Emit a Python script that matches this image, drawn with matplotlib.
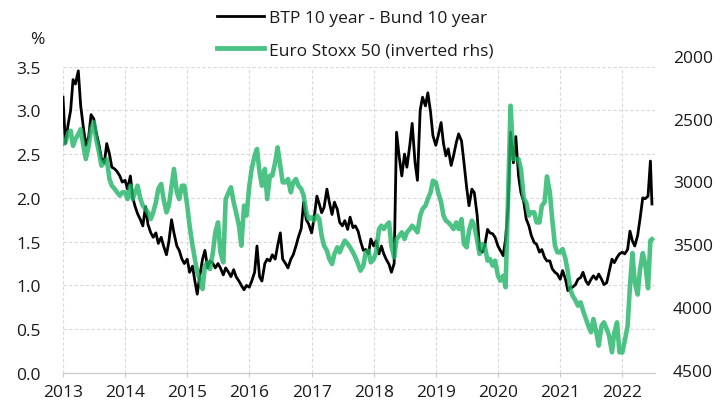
import numpy as np
import pandas as pd
import matplotlib
matplotlib.use("Agg")
import matplotlib.pyplot as plt
import matplotlib.dates as mdates
from matplotlib.lines import Line2D

# BTP 10y - Bund 10y spread (%), semi-monthly readings
btp_2013 = [3.15, 2.62, 2.85, 3.0, 3.35, 3.3, 3.45, 3.05, 2.8, 2.6, 2.7, 2.95,
            2.9, 2.75, 2.6, 2.45, 2.4, 2.62, 2.5, 2.35, 2.33, 2.3, 2.25, 2.18]
btp_2014 = [2.2, 2.1, 2.25, 2.0, 1.9, 1.82, 1.75, 1.68, 1.9, 1.7, 1.6, 1.55,
            1.6, 1.48, 1.55, 1.45, 1.35, 1.5, 1.75, 1.6, 1.45, 1.4, 1.3, 1.25]
btp_2015 = [1.3, 1.15, 1.22, 1.05, 0.9, 1.1, 1.3, 1.4, 1.2, 1.28, 1.25, 1.2,
            1.25, 1.2, 1.12, 1.2, 1.15, 1.1, 1.18, 1.1, 1.05, 1.0, 0.95, 1.0]
btp_2016 = [0.98, 1.05, 1.15, 1.45, 1.1, 1.05, 1.25, 1.3, 1.28, 1.35, 1.3, 1.45,
            1.6, 1.3, 1.25, 1.2, 1.3, 1.35, 1.45, 1.55, 1.65, 1.95, 1.75, 1.7]
btp_2017 = [1.6, 1.76, 2.02, 1.93, 1.83, 1.89, 2.1, 1.95, 1.81, 1.95, 1.87, 1.72,
            1.68, 1.74, 1.64, 1.78, 1.66, 1.68, 1.62, 1.51, 1.4, 1.41, 1.36, 1.53]
btp_2018 = [1.45, 1.51, 1.36, 1.45, 1.36, 1.3, 1.24, 1.15, 1.25, 2.75, 2.45, 2.25,
            2.5, 2.35, 2.6, 2.85, 2.4, 2.2, 3.0, 3.15, 3.05, 3.2, 2.98, 2.71]
btp_2019 = [2.6, 2.71, 2.86, 2.62, 2.48, 2.56, 2.37, 2.48, 2.63, 2.73, 2.65, 2.41,
            2.12, 1.91, 2.1, 2.06, 1.8, 1.41, 1.38, 1.45, 1.64, 1.6, 1.59, 1.55]
btp_2020 = [1.45, 1.4, 1.34, 1.53, 1.91, 2.75, 2.4, 2.7, 2.25, 2.06, 1.95, 1.76,
            1.68, 1.57, 1.49, 1.47, 1.38, 1.41, 1.32, 1.28, 1.28, 1.19, 1.15, 1.13]
btp_2021 = [1.07, 1.17, 1.07, 0.94, 0.98, 0.98, 1.01, 1.07, 1.09, 1.15, 1.05, 1.01,
            1.07, 1.11, 1.07, 1.13, 1.07, 1.01, 1.03, 1.15, 1.3, 1.26, 1.32, 1.36]
btp_2022 = [1.38, 1.36, 1.41, 1.62, 1.51, 1.45, 1.57, 1.76, 2.0, 1.99, 2.02, 2.42, 1.93]

# Euro Stoxx 50 index level, same dates
sx_2013 = [2703, 2690, 2610, 2597, 2717, 2664, 2624, 2584, 2717, 2822, 2717, 2584,
           2530, 2664, 2770, 2875, 2849, 2823, 2981, 3034, 3060, 3087, 3113, 3087]
sx_2014 = [3087, 3140, 3034, 3140, 3087, 3034, 3140, 3193, 3219, 3246, 3299, 3246,
           3166, 3060, 3020, 3140, 3246, 3193, 3034, 2901, 3087, 3140, 3034, 3034]
sx_2015 = [3193, 3352, 3511, 3617, 3723, 3776, 3856, 3670, 3644, 3697, 3564, 3405,
           3326, 3564, 3644, 3140, 3087, 3047, 3166, 3246, 3352, 3511, 3193, 3272]
sx_2016 = [3034, 2901, 2795, 2742, 2928, 3034, 2901, 3140, 2954, 2954, 2848, 2729,
           2875, 3007, 3007, 2981, 3087, 3007, 2981, 3034, 3060, 3113, 3246, 3299]
sx_2017 = [3286, 3312, 3272, 3299, 3432, 3511, 3551, 3617, 3657, 3577, 3524, 3564,
           3511, 3471, 3498, 3524, 3564, 3604, 3657, 3710, 3670, 3564, 3551, 3644]
sx_2018 = [3617, 3564, 3379, 3352, 3379, 3352, 3326, 3511, 3604, 3458, 3432, 3405,
           3458, 3405, 3379, 3352, 3379, 3405, 3272, 3219, 3193, 3140, 3087, 2994]
sx_2019 = [3007, 3087, 3166, 3272, 3312, 3326, 3352, 3379, 3326, 3379, 3299, 3498,
           3524, 3392, 3312, 3352, 3471, 3577, 3498, 3511, 3630, 3617, 3670, 3630]
sx_2020 = [3750, 3789, 3750, 3842, 3087, 2398, 2822, 2822, 2822, 2901, 3140, 3166,
           3272, 3246, 3246, 3326, 3326, 3193, 3166, 2960, 3087, 3299, 3511, 3564]
sx_2021 = [3564, 3538, 3617, 3723, 3856, 3909, 3948, 3988, 3962, 4028, 4094, 4147,
           4200, 4094, 4200, 4306, 4147, 4121, 4174, 4227, 4359, 4200, 4121, 4359]
sx_2022 = [4360, 4270, 4150, 3830, 3570, 3800, 3900, 3700, 3570, 3650, 3850, 3470, 3460]

btp = (btp_2013 + btp_2014 + btp_2015 + btp_2016 + btp_2017 + btp_2018
       + btp_2019 + btp_2020 + btp_2021 + btp_2022)
stoxx = (sx_2013 + sx_2014 + sx_2015 + sx_2016 + sx_2017 + sx_2018
         + sx_2019 + sx_2020 + sx_2021 + sx_2022)

dates = list(pd.date_range("2013-01-01", periods=len(btp) - 1, freq="SMS"))
dates.append(pd.Timestamp("2022-06-24"))

left_ticks = [0.0, 0.5, 1.0, 1.5, 2.0, 2.5, 3.0, 3.5]
right_ticks = [2000, 2500, 3000, 3500, 4000, 4500]

BLACK = "#000000"
GREEN = "#1fb565"
TXT = "#1a1a1a"
GRID = "#d9d9d9"

plt.rcParams["font.family"] = ["Open Sans", "DejaVu Sans"]
plt.rcParams["font.size"] = 12.5

W, H = 724, 406
fig = plt.figure(figsize=(W / 100, H / 100), dpi=100)

# main axes (left scale)
x0, x1 = 63, 655
ytop, ybot = 67.5, 374
ax = fig.add_axes([x0 / W, 1 - ybot / H, (x1 - x0) / W, (ybot - ytop) / H])
ax.plot(dates, btp, color=BLACK, lw=2.0, zorder=3)
ax.set_ylim(0, 3.5)
ax.set_yticks(left_ticks)
ax.set_yticklabels([f"{v:.1f}" for v in left_ticks], color=TXT)
ax.set_xlim(pd.Timestamp("2013-01-01"), pd.Timestamp("2022-07-12"))
ax.xaxis.set_major_locator(mdates.YearLocator())
ax.xaxis.set_major_formatter(mdates.DateFormatter("%Y"))
ax.grid(True, color=GRID, ls=(0, (3, 2)), lw=0.8)
for s in ["top", "left", "right"]:
    ax.spines[s].set_visible(False)
ax.spines["bottom"].set_color("#c8c8c8")
ax.tick_params(axis="y", length=0, pad=16)
ax.tick_params(axis="x", length=3, color="#c8c8c8", pad=5, labelcolor=TXT)

# right scale (inverted), its 2000 mark sits slightly above the plot top
r_top, r_bot = 56.7, 371
ax2 = fig.add_axes([x0 / W, 1 - r_bot / H, (x1 - x0) / W, (r_bot - r_top) / H], sharex=ax)
ax2.plot(dates, stoxx, color=GREEN, lw=3.3, alpha=0.8, zorder=4)
ax2.set_ylim(4500, 2000)
ax2.set_yticks(right_ticks)
ax2.set_yticklabels([str(v) for v in right_ticks], color=TXT)
ax2.yaxis.tick_right()
ax2.tick_params(axis="y", length=0, pad=13)
ax2.tick_params(axis="x", bottom=False, labelbottom=False)
ax2.patch.set_visible(False)
for s in ax2.spines.values():
    s.set_visible(False)

fig.text(37 / W, 1 - 40 / H, "%", ha="center", va="center", color=TXT)

handles = [Line2D([0], [0], color=BLACK, lw=2.0),
           Line2D([0], [0], color=GREEN, lw=3.5, alpha=0.8)]
fig.legend(handles, ["BTP 10 year - Bund 10 year", "Euro Stoxx 50 (inverted rhs)"],
           loc="upper left", bbox_to_anchor=(217 / W, 1 - 10.5 / H), frameon=False,
           borderpad=0, borderaxespad=0, handlelength=2.7, handletextpad=0.3,
           labelspacing=0.95, fontsize=12.5, labelcolor=TXT)

fig.savefig("out.png", dpi=100)
